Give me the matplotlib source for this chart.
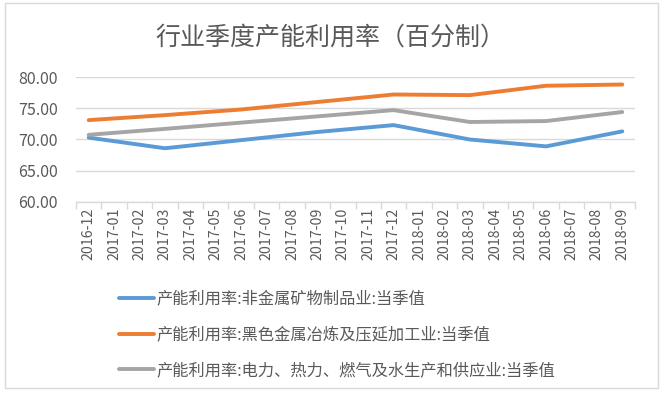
import matplotlib
matplotlib.use("Agg")
import matplotlib.pyplot as plt
from matplotlib.patches import Rectangle

plt.rcParams['font.family'] = ['Noto Sans CJK SC', 'DejaVu Sans']

months = ["2016-12", "2017-01", "2017-02", "2017-03", "2017-04", "2017-05", "2017-06",
          "2017-07", "2017-08", "2017-09", "2017-10", "2017-11", "2017-12", "2018-01",
          "2018-02", "2018-03", "2018-04", "2018-05", "2018-06", "2018-07", "2018-08",
          "2018-09"]
quarters = ["2016-12", "2017-03", "2017-06", "2017-09", "2017-12", "2018-03", "2018-06", "2018-09"]
nonmetal = [70.3, 68.6, 69.9, 71.2, 72.3, 70.0, 68.9, 71.3]
ferrous = [73.1, 73.9, 74.8, 76.0, 77.2, 77.1, 78.6, 78.8]
power = [70.75, 71.7, 72.7, 73.7, 74.7, 72.8, 72.95, 74.4]
names = ["产能利用率:非金属矿物制品业:当季值",
         "产能利用率:黑色金属冶炼及压延加工业:当季值",
         "产能利用率:电力、热力、燃气及水生产和供应业:当季值"]
colors = ["#5B9BD5", "#ED7D31", "#A5A5A5"]
yticks = [60, 65, 70, 75, 80]
title = "行业季度产能利用率（百分制）"

W, H = 668, 397
fig = plt.figure(figsize=(W / 100, H / 100), dpi=100)
fig.patch.set_facecolor("white")

# outer chart border
fig.add_artist(Rectangle((5 / W, 1 - 388 / H), (658 - 5) / W, (388 - 3) / H,
                         transform=fig.transFigure, fill=False,
                         edgecolor="#D9D9D9", linewidth=1.0))

ax = fig.add_axes([76 / W, 1 - 202 / H, (635 - 76) / W, (202 - 77) / H])
xpos = [months.index(q) for q in quarters]
lines = []
for vals, c, n in zip([nonmetal, ferrous, power], colors, names):
    ln, = ax.plot(xpos, vals, color=c, linewidth=2.8, label=n,
                  solid_capstyle="round", solid_joinstyle="round", zorder=3)
    lines.append(ln)

ax.set_xlim(-0.5, len(months) - 0.5)
ax.set_ylim(60, 80)
ax.set_yticks(yticks)
ax.set_yticklabels([f"{v:.2f}" for v in yticks])
ax.grid(axis="y", color="#D9D9D9", linewidth=1.0)
ax.set_axisbelow(True)
for s in ["top", "right", "left"]:
    ax.spines[s].set_visible(False)
ax.spines["bottom"].set_color("#D9D9D9")
ax.spines["bottom"].set_linewidth(1.0)

ax.set_xticks(range(len(months)))
ax.set_xticklabels(months, rotation=90, fontsize=10.2, color="#595959")
ax.set_xticks([i - 0.5 for i in range(len(months) + 1)], minor=True)
ax.tick_params(axis="x", which="major", length=0, pad=4)
ax.tick_params(axis="x", which="minor", length=5, color="#D9D9D9", width=1.0)
ax.tick_params(axis="y", length=0, labelsize=11.5, labelcolor="#595959", pad=13)

fig.text(330 / W, 1 - 38 / H, title, ha="center", va="center",
         fontsize=18, color="#595959")

leg = fig.legend(handles=lines, loc="upper left",
                 bbox_to_anchor=(112 / W, 1 - 284 / H), frameon=False,
                 fontsize=11.7, handlelength=2.2, handletextpad=0.15,
                 labelspacing=1.15, borderaxespad=0)
for t in leg.get_texts():
    t.set_color("#595959")

fig.savefig("out.png", dpi=100, facecolor="white")
